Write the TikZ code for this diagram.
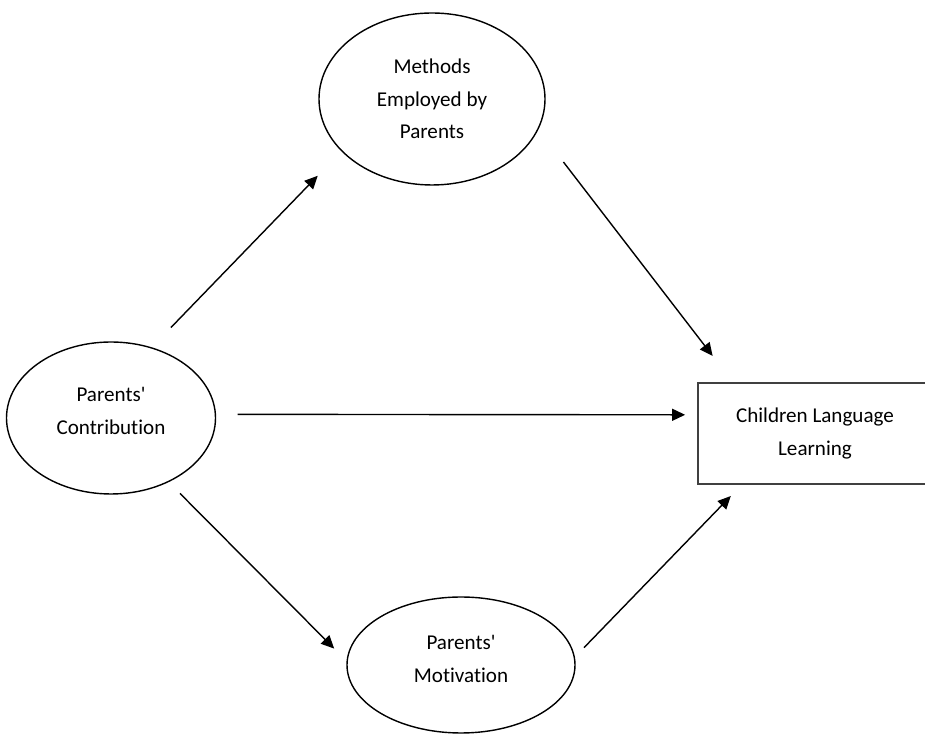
\documentclass[tikz,border=0pt]{standalone}
\usepackage{fontspec}
\setmainfont{Carlito}[Ligatures = NoCommon]
\usetikzlibrary{positioning, arrows.meta, shapes}
\tikzset{
every node/.style = {font = \fontsize{12}{18.5}\selectfont, align = center},
latent/.style = {ellipse, draw, line width = 0.8pt, inner sep = 0pt},
manifest/.style = {rectangle, draw = black!75, line width = 1pt, inner sep = 0pt},
regression/.style = {-{Triangle[length = 2.6mm, width = 2.4mm]}, line width = 0.8pt}
}

\begin{document}
\begin{tikzpicture}

\useasboundingbox (0, 0) rectangle (18.5, 14.84);
\clip (0, 0) rectangle (18.5, 14.84);

%% Constructs
\node at (8.64, 12.86) [latent, minimum width = 4.52cm, minimum height = 3.44cm] (methods) 
     {Methods\\Employed by\\Parents};
\node at (2.22, 6.48) [latent, minimum width = 4.18cm, minimum height = 3.04cm] (contribution) 
     {Parents\textquotesingle\\Contribution\\[-0.37cm]};
\node at (9.22, 1.54) [latent, minimum width = 4.56cm, minimum height = 2.72cm] (motivation) 
     {Parents\textquotesingle\\Motivation\\[-0.41cm]};

% Outcome
\node at (16.3, 6.17) [manifest, minimum width = 4.68cm, minimum height = 2.02cm] (learning) 
     {Children Language\\Learning};

%% The paths
\path [regression] (contribution.60) edge [shorten < = 5.5mm, shorten > = 6.8mm] (methods.210);
\path [regression] (methods.344) edge [shorten < = 8.2mm, shorten > = 6.6mm] (learning.148);
\path [regression] (contribution.2) edge [shorten < = 4.3mm, shorten > = 2.4mm] (learning.171);
\path [regression] (contribution.312) edge [shorten < = 3.2mm, shorten > = 3.5mm] (motivation.178);
\path [regression] (motivation.4) edge [shorten < = 2.6mm, shorten > = 3.1mm] (learning.215);

\end{tikzpicture}
\end{document}
